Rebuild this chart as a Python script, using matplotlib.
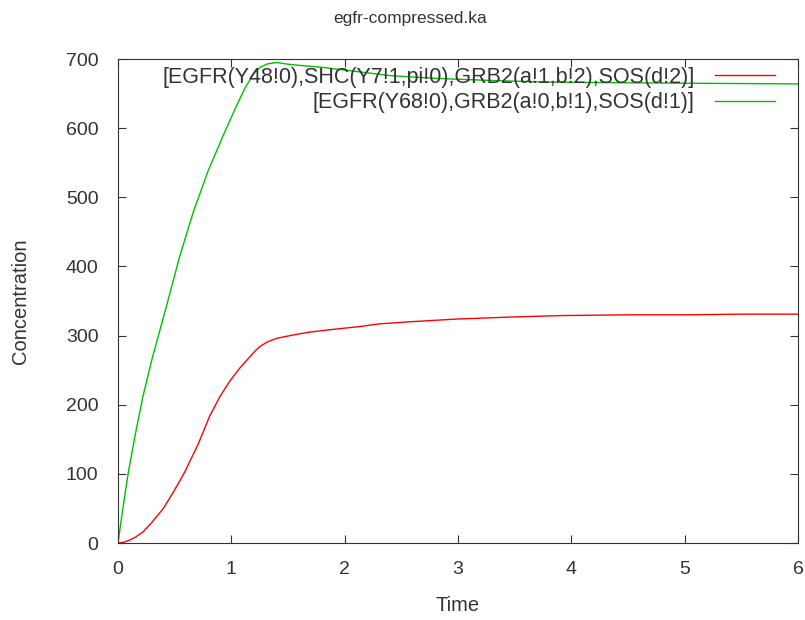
import matplotlib
matplotlib.use('Agg')
import matplotlib.pyplot as plt

plt.rcParams['font.family'] = ['Liberation Sans', 'DejaVu Sans']

# datos
t_rojo = [0, 0.05, 0.1, 0.15, 0.22, 0.3, 0.4, 0.49, 0.59, 0.71, 0.81, 0.9, 0.99, 1.07, 1.14, 1.2, 1.25,
          1.32, 1.4, 1.55, 1.69, 1.9, 2.13, 2.31, 2.58, 3.0, 3.5, 3.93, 4.5, 5.0, 5.5, 6.0]
c_rojo = [0, 1, 4, 8, 16, 30, 50, 74, 103, 144, 184, 212, 235, 252, 265, 276, 284,
          291, 296, 301, 305, 309, 313, 317, 320, 324, 327, 329, 330, 330, 331, 331]

t_verde = [0, 0.05, 0.09, 0.15, 0.22, 0.3, 0.43, 0.547, 0.665, 0.797, 0.93, 1.048, 1.12, 1.2, 1.253,
           1.32, 1.4, 1.52, 1.8, 2.1, 2.4, 2.8, 3.28, 3.7, 4.17, 5.0, 6.0]
c_verde = [0, 58, 101, 155, 212, 266, 344, 416, 479, 539, 590, 633, 658, 679, 688,
           693, 695, 692, 688, 682, 676, 672, 669, 667, 666, 665, 664]

etiquetas = ['[EGFR(Y48!0),SHC(Y7!1,pi!0),GRB2(a!1,b!2),SOS(d!2)]',
             '[EGFR(Y68!0),GRB2(a!0,b!1),SOS(d!1)]']

gris = '#333333'
fig = plt.figure(figsize=(8.05, 6.2), dpi=100)
ax = fig.add_axes([118 / 805, 77 / 620, 680 / 805, 484 / 620])

ax.plot(t_rojo, c_rojo, color='#ff0000', lw=1, label=etiquetas[0])
ax.plot(t_verde, c_verde, color='#00c000', lw=1, label=etiquetas[1])

ax.set_xlim(0, 6)
ax.set_ylim(0, 700)
ax.set_xticks(range(0, 7))
ax.set_yticks(range(0, 701, 100))
ax.tick_params(direction='in', top=True, right=True, length=6, labelsize=14,
               colors=gris, labelcolor=gris)
ax.tick_params(axis='y', pad=14)
ax.tick_params(axis='x', pad=13)
for s in ax.spines.values():
    s.set_color(gris)

fig.suptitle('egfr-compressed.ka', x=410 / 805, y=1 - 18 / 620, va='center',
             fontsize=12.5, color=gris)
ax.set_xlabel('Time', fontsize=14.5, color=gris)
ax.set_ylabel('Concentration', fontsize=14.5, color=gris)
ax.xaxis.set_label_coords(0.5, -(596 - 543) / 484)
ax.yaxis.set_label_coords(-(118 - 30) / 680, 0.5)

ley = ax.legend(loc='upper right', bbox_to_anchor=(1 - 23 / 680, 1 - 8 / 484), frameon=False,
                markerfirst=False, fontsize=15.5, handlelength=2.8, handletextpad=0.93,
                labelspacing=0.2, borderaxespad=0, borderpad=0)
for txt in ley.get_texts():
    txt.set_color(gris)

fig.savefig('out.png', dpi=100)
